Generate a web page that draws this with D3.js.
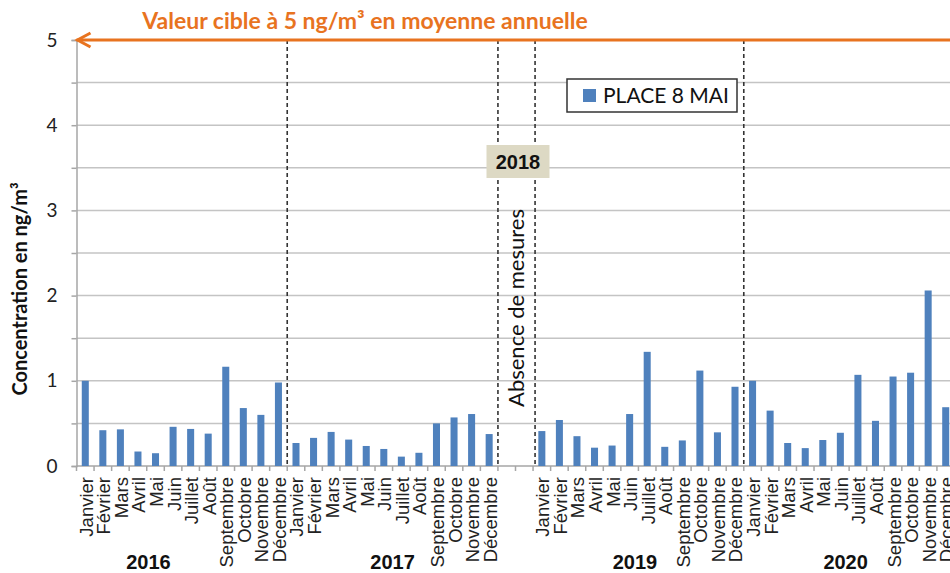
<!DOCTYPE html>
<html>
<head>
<meta charset="utf-8">
<script src="https://cdn.jsdelivr.net/npm/d3@7"></script>
<style>
  body { margin: 0; background: #fff; }
  svg { display: block; }
</style>
</head>
<body>
<div id="chart"></div>
<script>
const months = ["Janvier", "Février", "Mars", "Avril", "Mai", "Juin", "Juillet", "Août",
    "Septembre", "Octobre", "Novembre", "Décembre"];
const years = ["2016", "2017", "2019", "2020"];
const values2016 = [1.0, 0.42, 0.43, 0.17, 0.15, 0.46, 0.435, 0.38, 1.165, 0.68, 0.60, 0.98];
const values2017 = [0.27, 0.33, 0.40, 0.31, 0.235, 0.20, 0.11, 0.155, 0.50, 0.57, 0.61, 0.375];
const values2019 = [0.41, 0.54, 0.35, 0.215, 0.24, 0.61, 1.34, 0.225, 0.30, 1.12, 0.395, 0.93];
const values2020 = [1.0, 0.65, 0.27, 0.21, 0.305, 0.39, 1.07, 0.53, 1.05, 1.095, 2.06, 0.69];
const yTicks = [0, 0.5, 1, 1.5, 2, 2.5, 3, 3.5, 4, 4.5, 5];
const targetValue = 5;
const seriesName = "PLACE 8 MAI";
const missingYear = "2018";

var chartWidth = 950, chartHeight = 573;
var plotLeft = 76.5, step = 17.56, plotTop = 40, plotBottom = 466;

// build the category list, 2 empty slots for 2018
var seriesByYear = {"2016": values2016, "2017": values2017, "2019": values2019, "2020": values2020};
var cats = [];
years.forEach(function(yr) {
    months.forEach(function(m, i) {
        cats.push({key: yr + "-" + i, label: m, value: seriesByYear[yr][i]});
    });
    if (yr == "2017") {
        cats.push({key: "gap-0", label: "", value: null});
        cats.push({key: "gap-1", label: "", value: null});
    }
});

var svg = d3.select("#chart")
    .append("svg")
    .attr("width", chartWidth)
    .attr("height", chartHeight);

var x = d3.scaleBand()
    .domain(cats.map(d => d.key))
    .range([plotLeft, plotLeft + cats.length * step])
    .padding(0);
var y = d3.scaleLinear()
    .domain([0, 5])
    .range([plotBottom, plotTop]);

// gridlines
svg.append("g")
    .selectAll("line")
    .data(yTicks.filter(d => d > 0))
    .enter().append("line")
    .attr("x1", plotLeft)
    .attr("x2", chartWidth)
    .attr("y1", d => y(d))
    .attr("y2", d => y(d))
    .style("stroke", "#c4c4c4")
    .style("stroke-width", 1.5);

// y axis
var yAxis = svg.append("g")
    .attr("transform", "translate(" + plotLeft + ",0)")
    .call(d3.axisLeft(y)
        .tickValues(yTicks)
        .tickSize(5)
        .tickPadding(14)
        .tickFormat(d => Number.isInteger(d) ? d : ""));
yAxis.select(".domain").style("stroke", "#a6a6a6").style("stroke-width", 1.5);
yAxis.selectAll(".tick line").style("stroke", "#a6a6a6").style("stroke-width", 1.5);
yAxis.selectAll("text")
    .style("font-family", "Lato")
    .style("font-size", "19px")
    .style("fill", "#222");

// x baseline + boundary ticks
svg.append("line")
    .attr("x1", plotLeft)
    .attr("x2", chartWidth)
    .attr("y1", y(0))
    .attr("y2", y(0))
    .style("stroke", "#a6a6a6")
    .style("stroke-width", 1.5);
svg.append("g")
    .selectAll("line")
    .data(cats)
    .enter().append("line")
    .attr("x1", d => x(d.key))
    .attr("x2", d => x(d.key))
    .attr("y1", y(0))
    .attr("y2", y(0) + 5)
    .style("stroke", "#a6a6a6")
    .style("stroke-width", 1.5);

// month labels
var xAxis = svg.append("g")
    .attr("transform", "translate(0," + y(0) + ")")
    .call(d3.axisBottom(x)
        .tickSize(0)
        .tickFormat(k => cats.find(c => c.key == k).label));
xAxis.select(".domain").remove();
xAxis.selectAll("text")
    .attr("transform", "rotate(-90)")
    .attr("x", -11)
    .attr("y", 1)
    .attr("dy", "0.35em")
    .style("text-anchor", "end")
    .style("font-family", "Liberation Sans")
    .style("font-size", "18.5px")
    .style("fill", "#222");

// bars
svg.append("g")
    .selectAll("rect")
    .data(cats.filter(d => d.value != null))
    .enter().append("rect")
    .attr("x", d => x(d.key) + x.bandwidth() * 0.3)
    .attr("width", x.bandwidth() * 0.4)
    .attr("y", d => y(d.value))
    .attr("height", d => y(0) - y(d.value))
    .style("fill", "#4f81bd");

// dashed year separators
var seps = [x("2017-0"), x("gap-0"), x("2019-0") + 2, x("2020-0")];
svg.append("g")
    .selectAll("line")
    .data(seps)
    .enter().append("line")
    .attr("x1", d => d)
    .attr("x2", d => d)
    .attr("y1", y(targetValue))
    .attr("y2", y(0))
    .style("stroke", "#333")
    .style("stroke-width", 1.6)
    .style("stroke-dasharray", "4,3");

// year labels (offset in months from the start of each year)
var yearPos = {"2016": 4.1, "2017": 6.0, "2019": 5.8, "2020": 5.8};
svg.append("g")
    .selectAll("text")
    .data(years)
    .enter().append("text")
    .attr("x", d => x(d + "-0") + yearPos[d] * step)
    .attr("y", 569)
    .attr("text-anchor", "middle")
    .style("font-family", "Liberation Sans")
    .style("font-weight", "bold")
    .style("font-size", "20px")
    .style("fill", "#111")
    .text(d => d);

// missing 2018
var gapMid = x("gap-1");
svg.append("text")
    .attr("transform", "translate(" + (gapMid + 1) + "," + 308 + ") rotate(-90)")
    .attr("dy", "0.35em")
    .attr("text-anchor", "middle")
    .style("font-family", "Lato")
    .style("font-size", "22px")
    .style("fill", "#111")
    .text("Absence de mesures");
svg.append("rect")
    .attr("x", gapMid - 29)
    .attr("y", 145)
    .attr("width", 63)
    .attr("height", 33)
    .style("fill", "#ddd9c4");
svg.append("text")
    .attr("x", gapMid + 2.5)
    .attr("y", 169)
    .attr("text-anchor", "middle")
    .style("font-family", "Liberation Sans")
    .style("font-weight", "bold")
    .style("font-size", "20px")
    .style("fill", "#111")
    .text(missingYear);

// target value line with arrow
var orange = "#e8731f";
svg.append("line")
    .attr("x1", plotLeft)
    .attr("x2", chartWidth)
    .attr("y1", y(targetValue))
    .attr("y2", y(targetValue))
    .style("stroke", orange)
    .style("stroke-width", 3);
svg.append("path")
    .attr("d", "M" + (plotLeft + 14) + "," + (y(targetValue) - 7) + "L" + (plotLeft + 1) + "," + y(targetValue) +
        "L" + (plotLeft + 14) + "," + (y(targetValue) + 7))
    .style("fill", "none")
    .style("stroke", orange)
    .style("stroke-width", 3);
svg.append("text")
    .attr("x", 365)
    .attr("y", 29)
    .attr("text-anchor", "middle")
    .style("font-family", "Lato")
    .style("font-weight", "bold")
    .style("font-size", "23px")
    .style("fill", orange)
    .text("Valeur cible à 5 ng/m³ en moyenne annuelle");

// y label
svg.append("text")
    .attr("transform", "translate(20,289) rotate(-90)")
    .attr("dy", "0.35em")
    .attr("text-anchor", "middle")
    .style("font-family", "Lato")
    .style("font-weight", "bold")
    .style("font-size", "20px")
    .style("fill", "#111")
    .text("Concentration en ng/m³");

// legend
var legend = svg.append("g").attr("transform", "translate(567,79)");
legend.append("rect")
    .attr("width", 170)
    .attr("height", 33)
    .style("fill", "#fff")
    .style("stroke", "#333")
    .style("stroke-width", 1.5);
legend.append("rect")
    .attr("x", 16)
    .attr("y", 10)
    .attr("width", 13)
    .attr("height", 13)
    .style("fill", "#4f81bd");
legend.append("text")
    .attr("x", 36)
    .attr("y", 17)
    .attr("dy", "0.35em")
    .style("font-family", "Lato")
    .style("font-size", "21px")
    .style("fill", "#111")
    .text(seriesName);
</script>
</body>
</html>
